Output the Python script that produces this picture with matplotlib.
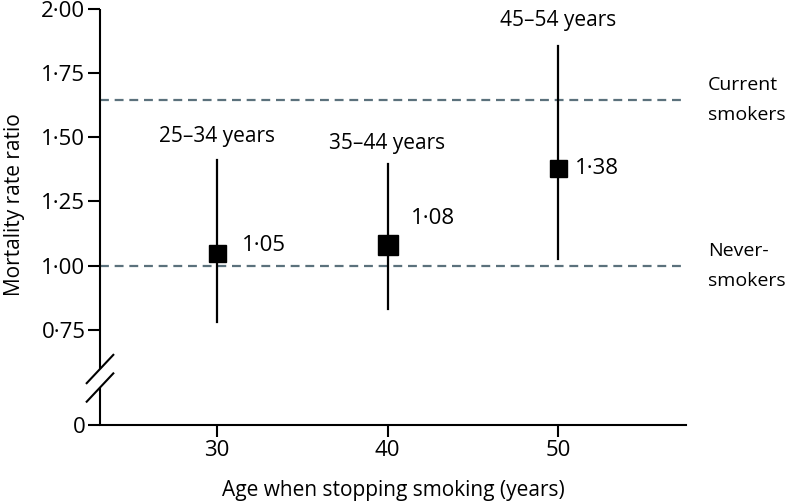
import numpy as np
import matplotlib
matplotlib.use("Agg")
import matplotlib.pyplot as plt

# data
ages = [30, 40, 50]
group_labels = ["25–34 years", "35–44 years", "45–54 years"]
ratios = [1.05, 1.08, 1.38]
ci_low = [0.78, 0.83, 1.025]
ci_high = [1.41, 1.395, 1.855]
never_smokers = 1.00
current_smokers = 1.645
yticks = [0, 0.75, 1.00, 1.25, 1.50, 1.75, 2.00]
xticks = [30, 40, 50]

# styles / layout
marker_px = [17, 19.5, 17]
value_offsets = [(18, 5), (17, 19), (12, 0)]   # points
group_offsets = [17, 15, 18]                    # points above CI top
dash_col = "#5b717c"
fs_text = 15
fs_num = 16

plt.rcParams["font.family"] = ["Open Sans", "DejaVu Sans"]
plt.rcParams["font.size"] = fs_text

# broken y axis: linear above 0.75, squashed between 0 and 0.75
Y0 = 0.3804
K = (0.75 - Y0) / 0.75


def fwd(v):
    v = np.asarray(v, dtype=float)
    return np.where(v >= 0.75, v, Y0 + K * v)


def inv(u):
    u = np.asarray(u, dtype=float)
    return np.where(u >= 0.75, u, (u - Y0) / K)


def dotfmt(v):
    return f"{v:.2f}".replace(".", "·")


fig = plt.figure(figsize=(7.88, 5.04), dpi=100)
ax = fig.add_axes([100 / 788, 79 / 504, 586 / 788, 416.3 / 504])
ax.set_yscale("function", functions=(fwd, inv))
ax.set_ylim(0, 2.0)
ax.set_xlim(23.14, 57.5)

for y in [never_smokers, current_smokers]:
    ax.axhline(y, color=dash_col, lw=1.6, dashes=(4, 2.6), zorder=1)

for i in range(len(ages)):
    ax.plot([ages[i], ages[i]], [ci_low[i], ci_high[i]], color="black", lw=1.6, zorder=2)
    ax.plot(ages[i], ratios[i], marker="s", color="black",
            markersize=marker_px[i] * 0.72, zorder=3)
    ax.annotate(dotfmt(ratios[i]), (ages[i], ratios[i]),
                xytext=value_offsets[i], textcoords="offset points",
                ha="left", va="center", fontsize=fs_num)
    ax.annotate(group_labels[i], (ages[i], ci_high[i]),
                xytext=(0, group_offsets[i]), textcoords="offset points",
                ha="center", va="center", fontsize=fs_text)

ax.text(58.8, current_smokers, "Current\nsmokers", ha="left", va="center",
        fontsize=14, linespacing=1.85, clip_on=False)
ax.text(58.8, never_smokers, "Never-\nsmokers", ha="left", va="center",
        fontsize=14, linespacing=1.85, clip_on=False)

ax.set_yticks(yticks)
ax.set_yticklabels(["0" if t == 0 else dotfmt(t) for t in yticks])
ax.set_xticks(xticks)
ax.tick_params(length=8.5, width=1.5, labelsize=fs_num, pad=2)

for s in ["top", "right", "left"]:
    ax.spines[s].set_visible(False)
ax.spines["bottom"].set_linewidth(1.5)

# left axis with break marks
ax.plot([0, 0], [0, 0.090], transform=ax.transAxes, color="black", lw=1.5,
        clip_on=False, solid_capstyle="butt")
ax.plot([0, 0], [0.1345, 1.0], transform=ax.transAxes, color="black", lw=1.5,
        clip_on=False, solid_capstyle="butt")
dx, dy = 0.0227, 0.034
for yc in [0.090, 0.1345]:
    ax.plot([-dx, dx], [yc - dy, yc + dy], transform=ax.transAxes,
            color="black", lw=1.5, clip_on=False)

ax.set_ylabel("Mortality rate ratio", fontsize=fs_text)
ax.yaxis.set_label_coords(-0.128, 0.53)
ax.set_xlabel("Age when stopping smoking (years)", fontsize=fs_text, labelpad=14)

fig.savefig("out.png", dpi=100)
